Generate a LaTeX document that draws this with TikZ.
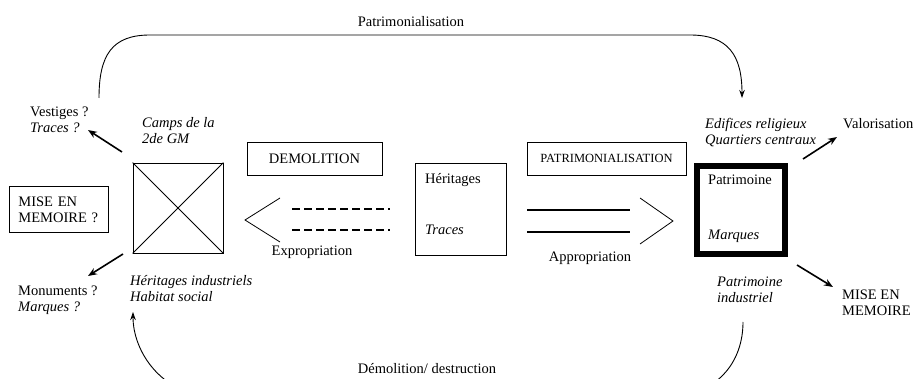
\documentclass[tikz,border=0pt]{standalone}
\usepackage{fontspec}
\setmainfont{Liberation Serif}
\usetikzlibrary{arrows.meta}

\begin{document}
\begin{tikzpicture}[x=1pt,y=-1pt,
        txt/.style={anchor=north west, inner sep=0pt, align=left, font=\fontsize{14.5}{16}\selectfont},
        itxt/.style={txt, font=\fontsize{14.5}{16}\selectfont\itshape},
        boite/.style={draw, line width=0.8pt},
        fleche/.style={line width=1.6pt, -{Stealth[length=9pt,width=7pt]}},
        courbe/.style={line width=0.9pt, -{Stealth[length=8pt,width=5.5pt]}}]
    \useasboundingbox (0,0) rectangle (916,379);

    % boites
    \node[boite, minimum width=90, minimum height=90] (croix) at (178,208) {};
    \draw[line width=0.8pt] (croix.north west) -- (croix.south east) (croix.north east) -- (croix.south west);
    \node[boite, anchor=north west, minimum height=46, text width=81, inner xsep=9, align=left,
        font=\fontsize{14.5}{16}\selectfont] (memq) at (9,186) {MISE EN\\MEMOIRE ?};
    \node[boite, minimum width=135, minimum height=33, font=\fontsize{14.5}{16}\selectfont] (demo) at (314.5,158.5) {DEMOLITION};
    \node[boite, minimum width=159, minimum height=33, font=\fontsize{12.5}{14}\selectfont] (patri) at (606.5,158.5) {PATRIMONIALISATION};
    \node[boite, minimum width=91, minimum height=92] (her) at (460.5,209) {};
    \node[draw, line width=6pt, minimum width=88, minimum height=88] (patbox) at (741,210) {};

    % textes
    \node[txt] (hertxt) at (425,173) {Héritages};
    \node[itxt] (tratxt) at (425,225) {Traces};
    \node[txt] (patrtxt) at (708,175) {Patrimoine};
    \node[itxt] (marqtxt) at (708,230) {Marques};
    \node[txt] (vest) at (30,107) {Vestiges ?\\\textit{Traces ?}};
    \node[txt] (monu) at (18,286) {Monuments ?\\\textit{Marques ?}};
    \node[txt] (valo) at (843,118) {Valorisation};
    \node[txt] (mem) at (842,290) {MISE EN\\MEMOIRE};
    \node[itxt] (camps) at (142,117) {Camps de la\\2de GM};
    \node[itxt] (hind) at (130,275) {Héritages industriels\\Habitat social};
    \node[itxt] (edif) at (705,118) {Edifices religieux\\Quartiers centraux};
    \node[itxt] (pind) at (717,277) {Patrimoine\\industriel};
    \node[txt, anchor=north] (patlbl) at (411,16) {Patrimonialisation};
    \node[txt, anchor=north] (expro) at (312,246) {Expropriation};
    \node[txt, anchor=north] (appro) at (590,252) {Appropriation};
    \node[txt, anchor=north] (demdes) at (427,363) {Démolition/ destruction};

    % demolition / patrimonialisation
    \draw[line width=0.8pt] (280,198) -- (245,220) -- (280,242);
    \draw[line width=1.8pt, dash pattern=on 8pt off 4pt] (292,209) -- (390,209) (292,230) -- (390,230);
    \draw[line width=1.5pt] (527,210) -- (630,210) (527,232) -- (630,232);
    \draw[line width=0.8pt] (640,198) -- (673,221) -- (640,244);

    % fleches
    \coordinate (v0) at (122,152);
    \coordinate (v1) at (88,130);
    \coordinate (m0) at (123,254);
    \coordinate (m1) at (88,276);
    \coordinate (a0) at (803,159);
    \coordinate (a1) at (837,137);
    \coordinate (b0) at (797,265);
    \coordinate (b1) at (833,287);
    \foreach \de/\vers in {v0/v1, m0/m1, a0/a1, b0/b1} {
        \draw[fleche] (\de) -- (\vers);
    }

    \coordinate (ta0) at (99,98);
    \coordinate (ta1) at (742,98);
    \coordinate (ba0) at (743,322);
    \coordinate (ba1) at (133,312);
    \draw[courbe] (ta0) .. controls (99,55) and (112,35) .. (150,35) -- (690,35)
        .. controls (728,35) and (742,55) .. (ta1);
    \draw[courbe] (ba0) .. controls (743,360) and (720,400) .. (650,400) -- (230,400)
        .. controls (160,400) and (133,350) .. (ba1);
\end{tikzpicture}
\end{document}
